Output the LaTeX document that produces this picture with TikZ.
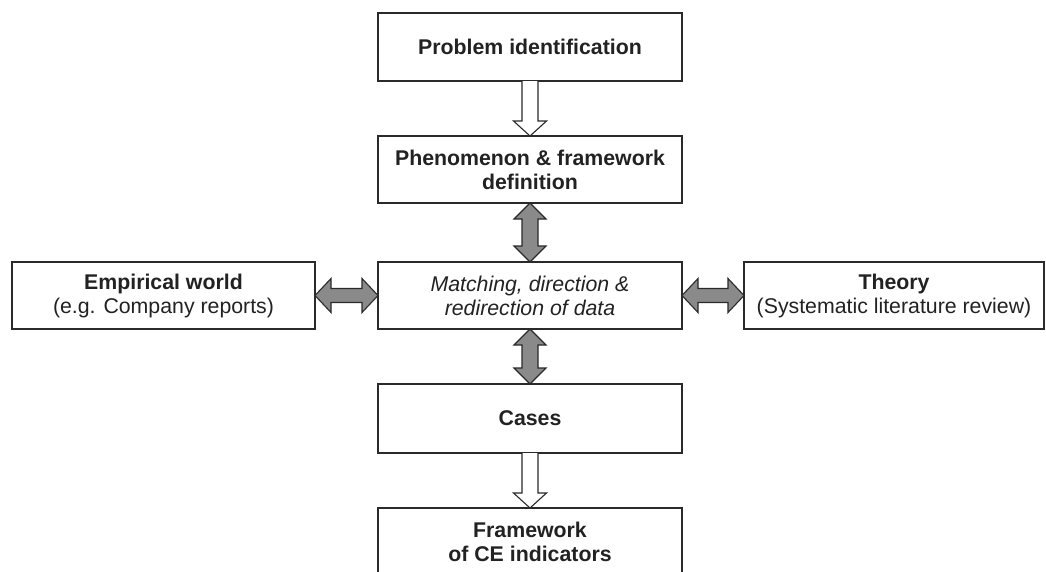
\documentclass[tikz,border=0pt]{standalone}
\usepackage{fontspec}
\setmainfont{Liberation Sans}
\usetikzlibrary{calc}
\definecolor{ink}{HTML}{222222}
\definecolor{edge}{HTML}{2A2A2A}
\definecolor{arrowgray}{HTML}{8A8A8A}
\newcommand\vdoublearrow[2]{%
  \draw[grayarrow] let \p1=(#1), \p2=(#2) in
  (\x1,\y1) -- (\x1+16pt,\y1-16pt) -- (\x1+8pt,\y1-16pt) -- (\x1+8pt,\y2+16pt)
  -- (\x1+16pt,\y2+16pt) -- (\x1,\y2) -- (\x1-16pt,\y2+16pt) -- (\x1-8pt,\y2+16pt)
  -- (\x1-8pt,\y1-16pt) -- (\x1-16pt,\y1-16pt) -- cycle;}
\newcommand\hdoublearrow[2]{%
  \draw[grayarrow] let \p1=(#1), \p2=(#2) in
  (\x1,\y1) -- (\x1+16pt,\y1+17pt) -- (\x1+16pt,\y1+7pt) -- (\x2-16pt,\y1+7pt)
  -- (\x2-16pt,\y1+17pt) -- (\x2,\y1) -- (\x2-16pt,\y1-17pt) -- (\x2-16pt,\y1-7pt)
  -- (\x1+16pt,\y1-7pt) -- (\x1+16pt,\y1-17pt) -- cycle;}
\newcommand\vhollowarrow[2]{%
  \draw[hollowarrow] let \p1=(#1), \p2=(#2) in
  (\x1-8pt,\y1) -- (\x1-8pt,\y2+15pt) -- (\x1-16.5pt,\y2+15pt) -- (\x1,\y2)
  -- (\x1+16.5pt,\y2+15pt) -- (\x1+8pt,\y2+15pt) -- (\x1+8pt,\y1);}
\tikzset{
  box/.style={draw=edge, line width=1.2pt, fill=white, rectangle, outer sep=0pt,
    inner sep=2pt, align=center, text=ink,
    font=\fontsize{21.3}{24}\selectfont},
  grayarrow/.style={draw=edge, line width=1.1pt, fill=arrowgray, line join=miter},
  hollowarrow/.style={draw=edge, line width=1.1pt, fill=white, line join=miter},
}
\begin{document}
\begin{tikzpicture}[x=1pt,y=-1pt]
  \useasboundingbox (0,0) rectangle (1046,571);
  \clip (0,0) rectangle (1046,571);
  \fill[white] (0,0) rectangle (1046,571);
  \node[box, minimum width=304pt, minimum height=68pt] (prob) at (530,47)
    {\textbf{Problem identification}};
  \node[box, minimum width=304pt, minimum height=67pt] (phen) at (530,169.5)
    {\textbf{Phenomenon \& framework}\\\textbf{definition}};
  \node[box, minimum width=304pt, minimum height=67pt] (match) at (530,295.5)
    {\textit{Matching, direction \&}\\\textit{redirection of data}};
  \node[box, minimum width=303pt, minimum height=67pt] (emp) at (163.5,295.5)
    {\textbf{Empirical world}\\(e.g. Company reports)};
  \node[box, minimum width=300pt, minimum height=67pt] (theo) at (894,295.5)
    {\textbf{Theory}\\(Systematic literature review)};
  \node[box, minimum width=304pt, minimum height=69pt] (cases) at (530,418.5)
    {\textbf{Cases}};
  \node[box, minimum width=304pt, minimum height=68pt] (frame) at (530,542)
    {\textbf{Framework}\\\textbf{of CE indicators}};
  \vhollowarrow{prob.south}{phen.north}
  \vdoublearrow{phen.south}{match.north}
  \vdoublearrow{match.south}{cases.north}
  \hdoublearrow{emp.east}{match.west}
  \hdoublearrow{match.east}{theo.west}
  \vhollowarrow{cases.south}{frame.north}
\end{tikzpicture}
\end{document}
